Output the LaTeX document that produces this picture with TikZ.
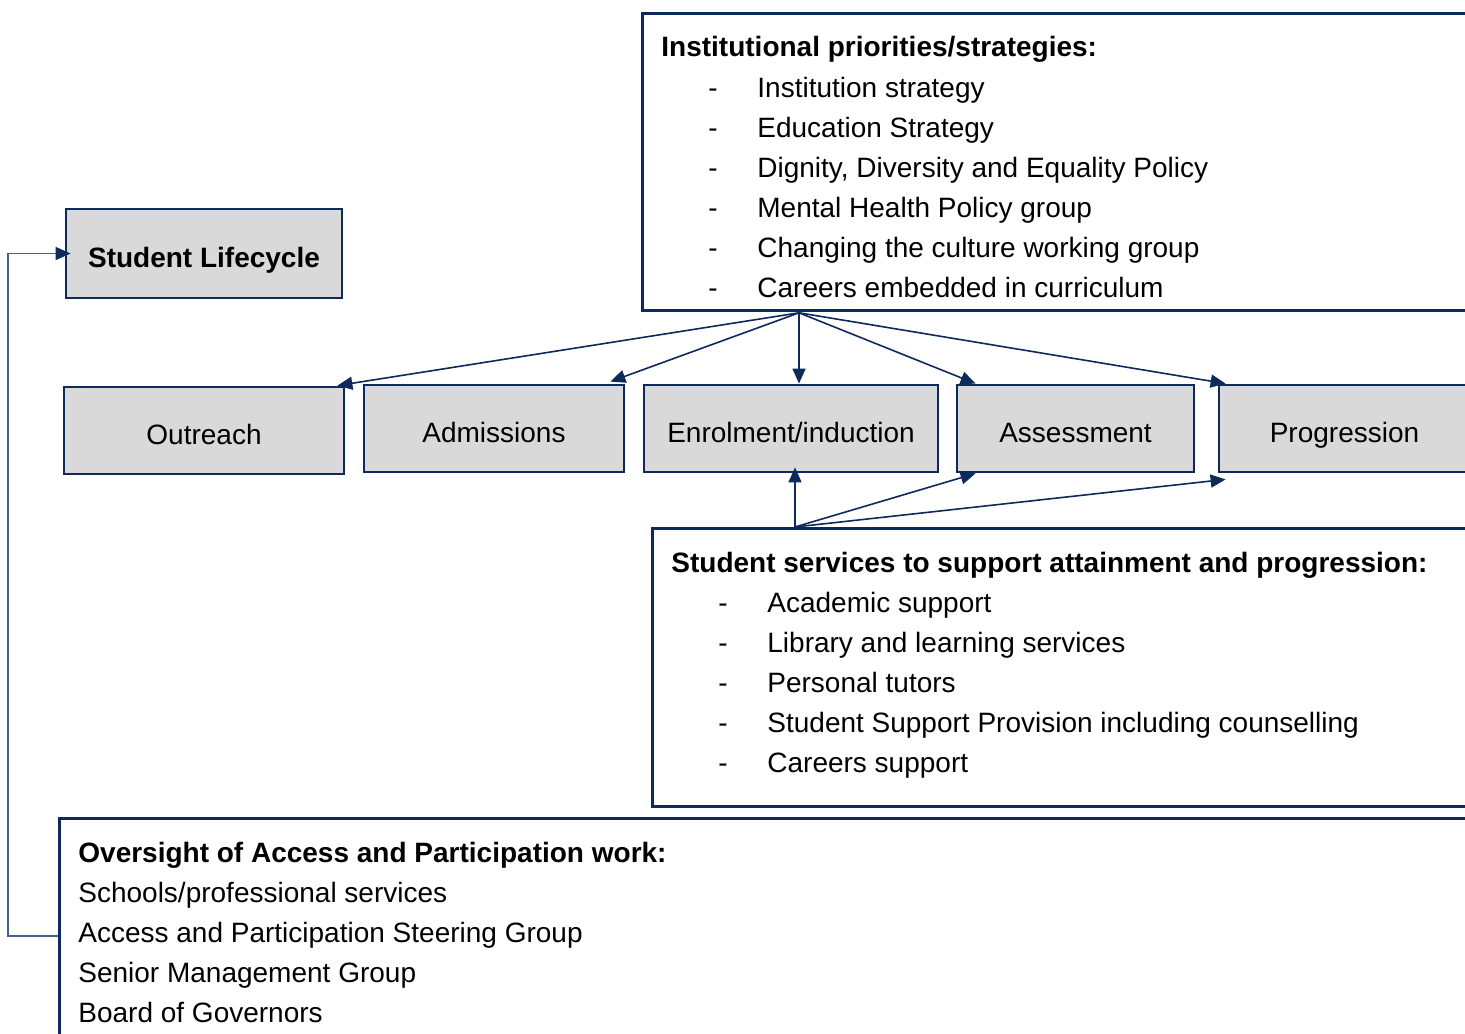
\documentclass[tikz,border=0pt]{standalone}
\usepackage{fontspec}
\setmainfont{Liberation Sans}
\usetikzlibrary{arrows.meta,calc}
\definecolor{navy}{RGB}{13,42,90}
\definecolor{boxgray}{RGB}{217,217,217}
\definecolor{linkblue}{RGB}{70,96,136}
\begin{document}
\begin{tikzpicture}[x=0.5pt,y=-0.5pt,
  font=\fontsize{14}{16}\selectfont,
  boldtxt/.style={font=\fontsize{14}{16}\selectfont\bfseries},
  frame/.style={draw=navy,line width=1.4pt,inner sep=0pt,anchor=north west},
  stage/.style={draw=navy,fill=boxgray,line width=1.4pt,inner sep=0pt,
    text height=14pt,text depth=0pt,minimum height=43.5pt},
  txt/.style={inner sep=0pt,anchor=base west},
  conn/.style={draw=navy,line width=0.8pt,-{Triangle[length=7.5pt,width=6.5pt]}},
  back/.style={draw=linkblue,line width=0.8pt,-{Triangle[length=7.5pt,width=6.5pt,color=navy]}},
]
\useasboundingbox (0,0) rectangle (1465,1033);
\clip (0,0) rectangle (1465,1033);

% frames
\node[frame,minimum width=430pt,minimum height=148.5pt] (inst) at (641,12) {};
\node[frame,minimum width=430pt,minimum height=139pt] (serv) at (651,527) {};
\node[frame,minimum width=720pt,minimum height=150pt] (over) at (58,817) {};

% stage boxes
\node[stage,boldtxt,minimum width=138pt,minimum height=44.5pt] (life) at (204,253.5) {Student Lifecycle};
\node[stage,minimum width=140pt] (out) at (204,430.5) {Outreach};
\node[stage,minimum width=130pt] (adm) at (494,428.5) {Admissions};
\node[stage,minimum width=147pt] (enr) at (791,428.5) {Enrolment/induction};
\node[stage,minimum width=118.5pt] (ass) at (1075.5,428.5) {Assessment};
\node[stage,minimum width=125.5pt] (prog) at (1344.5,428.5) {Progression};

% institutional text
\node[txt,boldtxt] (ptitle) at (661,56) {Institutional priorities/strategies:};
\foreach \t [count=\i] in {Institution strategy, Education Strategy,
  {Dignity, Diversity and Equality Policy}, Mental Health Policy group,
  Changing the culture working group, Careers embedded in curriculum} {
  \node[txt] (pd\i) at (708,57+40*\i) {-};
  \node[txt] (pi\i) at (757,57+40*\i) {\t};
}

% services text
\node[txt,boldtxt] (stitle) at (671,572) {Student services to support attainment and progression:};
\foreach \t [count=\i] in {Academic support, Library and learning services,
  Personal tutors, Student Support Provision including counselling, Careers support} {
  \node[txt] (sd\i) at (718,572+40*\i) {-};
  \node[txt] (si\i) at (767,572+40*\i) {\t};
}

% oversight text
\node[txt,boldtxt] (otitle) at (78,862) {Oversight of Access and Participation work:};
\foreach \t [count=\i] in {Schools/professional services,
  Access and Participation Steering Group, Senior Management Group, Board of Governors} {
  \node[txt] (oi\i) at (78,862+40*\i) {\t};
}

% connectors from institutional priorities
\coordinate (topsrc) at ($(inst.south west)+(158,1)$);
\draw[conn] (topsrc) -- ($(out.north east)+(-8,0)$);
\draw[conn] (topsrc) -- ($(adm.north east)+(-15,-2)$);
\draw[conn] (topsrc) -- (enr.north -| topsrc);
\draw[conn] (topsrc) -- ($(ass.north west)+(20,0)$);
\draw[conn] (topsrc) -- ($(prog.north west)+(8,0)$);

% connectors from student services
\coordinate (botsrc) at ($(serv.north west)+(144,0)$);
\draw[conn] (botsrc) -- ($(enr.south -| botsrc)+(0,-6)$);
\draw[conn] (botsrc) -- ($(ass.south west)+(20,0)$);
\draw[conn] (botsrc) -- ($(prog.south west)+(8,6)$);

% oversight back to lifecycle
\coordinate (ovleft) at ($(over.north west)+(0,119)$);
\draw[back] (ovleft) -- ++(-50,0) |- ($(life.west)+(6,0)$);
\end{tikzpicture}
\end{document}
